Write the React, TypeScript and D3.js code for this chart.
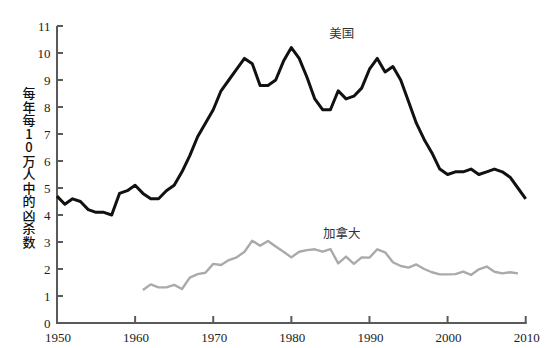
import React from "react";
import * as d3 from "d3";

const usYears = d3.range(1950, 2011);
const usValues = [
  4.7, 4.4, 4.6, 4.5, 4.2, 4.1, 4.1, 4.0, 4.8, 4.9,
  5.1, 4.8, 4.6, 4.6, 4.9, 5.1, 5.6, 6.2, 6.9, 7.4,
  7.9, 8.6, 9.0, 9.4, 9.8, 9.6, 8.8, 8.8, 9.0, 9.7,
  10.2, 9.8, 9.1, 8.3, 7.9, 7.9, 8.6, 8.3, 8.4, 8.7,
  9.4, 9.8, 9.3, 9.5, 9.0, 8.2, 7.4, 6.8, 6.3, 5.7,
  5.5, 5.6, 5.6, 5.7, 5.5, 5.6, 5.7, 5.6, 5.4, 5.0,
  4.6,
];
const caYears = d3.range(1961, 2010);
const caValues = [
  1.22, 1.43, 1.32, 1.32, 1.41, 1.26, 1.68, 1.81, 1.86,
  2.19, 2.15, 2.33, 2.43, 2.64, 3.05, 2.86, 3.04, 2.83, 2.64,
  2.43, 2.64, 2.70, 2.73, 2.64, 2.74, 2.21, 2.46, 2.19, 2.43,
  2.42, 2.73, 2.62, 2.25, 2.11, 2.05, 2.17, 2.0, 1.88, 1.80,
  1.80, 1.81, 1.90, 1.78, 1.99, 2.09, 1.90, 1.84, 1.88, 1.84,
];
const xTicks = [1950, 1960, 1970, 1980, 1990, 2000, 2010];
const yTicks = d3.range(0, 12);
const yTitle = "每年每10万人中的凶杀数";
const seriesLabels = [
  { text: "美国", year: 1986, value: 10.55 },
  { text: "加拿大", year: 1986, value: 3.15 },
];

export default function App() {
  const W = 557, H = 348;
  const x = d3.scaleLinear().domain([1950, 2010]).range([57, 525.7]);
  const y = d3.scaleLinear().domain([0, 11]).range([323, 26]);
  const line = d3.line<[number, number]>().x((d) => x(d[0])).y((d) => y(d[1]));
  const usPath = line(usYears.map((yr, i) => [yr, usValues[i]]))!;
  const caPath = line(caYears.map((yr, i) => [yr, caValues[i]]))!;
  const axisColor = "#5a5a5a";
  const serif = "'Liberation Serif', 'DejaVu Serif', serif";
  const cjk = "'Noto Sans CJK SC', sans-serif";
  return (
    <svg width={W} height={H} style={{ position: "absolute", left: 0, top: 0, background: "#fff" }}>
      <line x1={x(1950)} x2={x(1950)} y1={y(11)} y2={y(0)} stroke={axisColor} strokeWidth={2} />
      <line x1={x(1950) - 1} x2={x(2010) + 1} y1={y(0)} y2={y(0)} stroke={axisColor} strokeWidth={2} />
      {yTicks.map((t) => (
        <g key={"y" + t}>
          <line x1={x(1950)} x2={x(1950) + 6} y1={y(t)} y2={y(t)} stroke={axisColor} strokeWidth={2} />
          <text x={50.5} y={y(t) + 4.5} textAnchor="end" fontFamily={serif} fontSize={13} fill="#222">{t}</text>
        </g>
      ))}
      {xTicks.map((t) => (
        <g key={"x" + t}>
          <line x1={x(t)} x2={x(t)} y1={y(0)} y2={y(0) - 7} stroke={axisColor} strokeWidth={2} />
          <text x={x(t) + 1} y={341.5} textAnchor="middle" fontFamily={serif} fontSize={13} fill="#222">{t}</text>
        </g>
      ))}
      <text
        x={29}
        y={87}
        fontFamily={cjk}
        fontSize={13}
        fontWeight={500}
        fill="#111"
        letterSpacing={0.5}
        style={{ writingMode: "vertical-rl", textOrientation: "upright" }}
      >
        {yTitle}
      </text>
      <path d={caPath} fill="none" stroke="#aaaaaa" strokeWidth={2.4} strokeLinejoin="round" />
      <path d={usPath} fill="none" stroke="#111" strokeWidth={3} strokeLinejoin="round" />
      {seriesLabels.map((l) => (
        <text key={l.text} x={x(l.year) + 3.5} y={y(l.value)} textAnchor="middle" fontFamily={cjk} fontSize={12.5} fill="#333">{l.text}</text>
      ))}
    </svg>
  );
}
